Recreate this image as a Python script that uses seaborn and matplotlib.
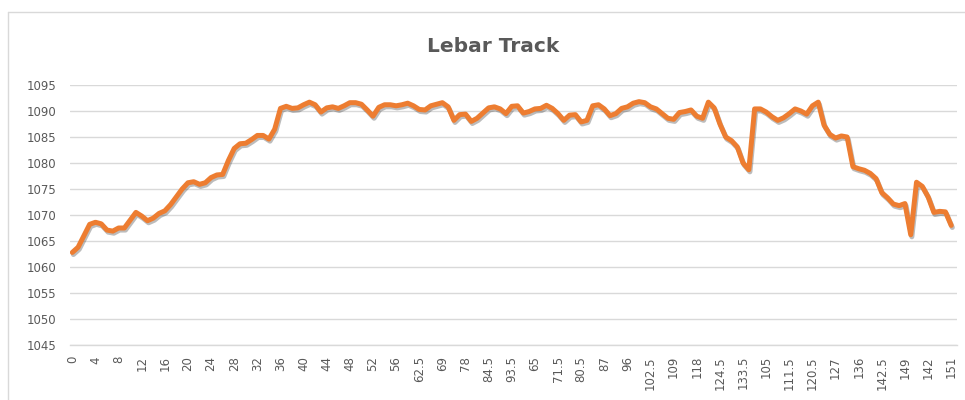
import numpy as np
import pandas as pd
import matplotlib
matplotlib.use("Agg")
import matplotlib.pyplot as plt
import matplotlib.patheffects as pe
from matplotlib.lines import Line2D
import seaborn as sns

title = "Lebar Track"
tick_labels = ["0", "4", "8", "12", "16", "20", "24", "28", "32", "36", "40", "44",
               "48", "52", "56", "62.5", "69", "78", "84.5", "93.5", "65", "71.5",
               "80.5", "87", "96", "102.5", "109", "118", "124.5", "133.5", "105",
               "111.5", "120.5", "127", "136", "142.5", "149", "142", "151"]
values = [
    1062.8, 1063.8, 1066.0, 1068.2, 1068.6, 1068.3, 1067.1, 1066.9, 1067.5, 1067.5,
    1069.0, 1070.5, 1069.8, 1068.9, 1069.4, 1070.3, 1070.8, 1072.0, 1073.5, 1075.0,
    1076.2, 1076.4, 1075.9, 1076.2, 1077.2, 1077.7, 1077.8, 1080.5, 1082.8, 1083.7,
    1083.8, 1084.5, 1085.3, 1085.3, 1084.6, 1086.5, 1090.5, 1090.9, 1090.5, 1090.6,
    1091.2, 1091.7, 1091.2, 1089.8, 1090.6, 1090.8, 1090.5, 1091.0, 1091.6, 1091.6,
    1091.3, 1090.2, 1089.0, 1090.7, 1091.2, 1091.2, 1091.0, 1091.2, 1091.5, 1091.0,
    1090.3, 1090.2, 1091.0, 1091.3, 1091.6, 1090.8, 1088.2, 1089.3, 1089.4, 1088.0,
    1088.6, 1089.6, 1090.6, 1090.8, 1090.4, 1089.5, 1090.9, 1091.0, 1089.6, 1089.9,
    1090.4, 1090.5, 1091.1, 1090.5, 1089.5, 1088.2, 1089.2, 1089.3, 1087.9, 1088.2,
    1091.0, 1091.2, 1090.4, 1089.1, 1089.5, 1090.5, 1090.8, 1091.5, 1091.8, 1091.6,
    1090.8, 1090.4, 1089.5, 1088.6, 1088.4, 1089.7, 1089.9, 1090.2, 1089.0, 1088.6,
    1091.7, 1090.6, 1087.5, 1085.0, 1084.3, 1083.1, 1080.0, 1078.7, 1090.4, 1090.4,
    1089.8, 1088.9, 1088.2, 1088.7, 1089.5, 1090.4, 1090.0, 1089.4, 1091.0, 1091.7,
    1087.3, 1085.5, 1084.8, 1085.2, 1085.0, 1079.3, 1078.9, 1078.6, 1078.0, 1077.0,
    1074.3, 1073.3, 1072.1, 1071.8, 1072.2, 1066.2, 1076.3, 1075.5, 1073.5, 1070.5,
    1070.7, 1070.6, 1068.0,
]
label_step = 4
y_ticks = list(range(1045, 1096, 5))

df = pd.DataFrame({"idx": np.arange(len(values)), "value": values})

sns.set_theme(style="white")
plt.rcParams["font.family"] = ["DejaVu Sans"]

W, H = 965, 400
fig = plt.figure(figsize=(W / 100, H / 100), dpi=100)
fig.patch.set_facecolor("white")

ax_left, ax_right, ax_top, ax_bot = 70, 957, 85, 345
ax = fig.add_axes([ax_left / W, 1 - ax_bot / H, (ax_right - ax_left) / W, (ax_bot - ax_top) / H])

sns.lineplot(data=df, x="idx", y="value", ax=ax, color="#ED7D31", linewidth=3.6,
             solid_joinstyle="round", solid_capstyle="round",
             path_effects=[pe.SimpleLineShadow(offset=(0.8, -1.5), shadow_color="#404040", alpha=0.35),
                           pe.Normal()])

ax.set_ylim(1045, 1095)
ax.set_xlim(-0.4, len(values) - 1 + 1.0)
ax.set_yticks(y_ticks)
ax.set_yticklabels([str(v) for v in y_ticks])
ax.set_xticks(np.arange(0, len(values), label_step)[:len(tick_labels)])
ax.set_xticklabels(tick_labels, rotation=90)
ax.tick_params(axis="y", length=0, pad=10, labelsize=8.5, labelcolor="#595959")
ax.tick_params(axis="x", length=0, pad=8, labelsize=8.5, labelcolor="#595959")
ax.set_xlabel("")
ax.set_ylabel("")
ax.grid(axis="y", color="#d9d9d9", linewidth=1.0)
ax.grid(axis="x", visible=False)
for s in ["top", "right", "left"]:
    ax.spines[s].set_visible(False)
ax.spines["bottom"].set_color("#d9d9d9")
ax.spines["bottom"].set_linewidth(1.0)
ax.set_axisbelow(True)

fig.text(493 / W, 1 - 47 / H, title, ha="center", va="center",
         fontsize=14.5, fontweight="bold", color="#595959")

# chart area border (light gray)
fig.add_artist(Line2D([8 / W, 1.0], [1 - 12 / H, 1 - 12 / H], transform=fig.transFigure,
                      color="#d9d9d9", linewidth=1.0))
fig.add_artist(Line2D([8 / W, 8 / W], [0.0, 1 - 12 / H], transform=fig.transFigure,
                      color="#d9d9d9", linewidth=1.0))

fig.savefig("out.png", dpi=100, facecolor="white")
